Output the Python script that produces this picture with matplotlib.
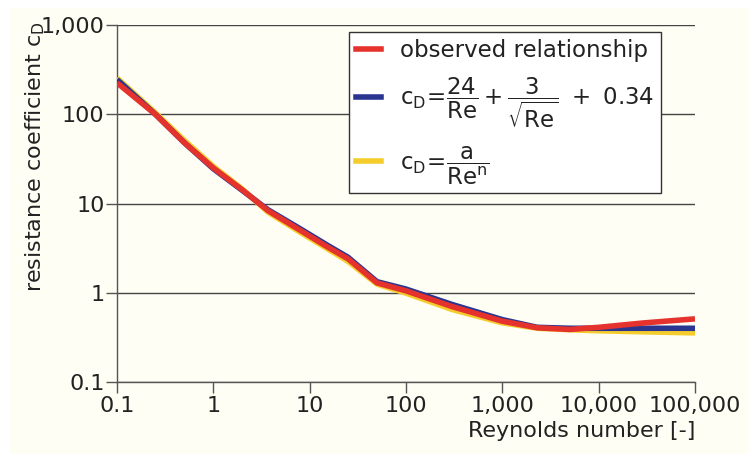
import matplotlib
matplotlib.use('Agg')
import matplotlib.pyplot as plt
from matplotlib.lines import Line2D
from matplotlib.patches import Rectangle
from matplotlib.ticker import FixedLocator, NullLocator

plt.rcParams['font.family'] = 'DejaVu Sans'
plt.rcParams['mathtext.fontset'] = 'dejavusans'
plt.rcParams['mathtext.default'] = 'regular'

# Reynolds numbers and drag coefficients
reynolds = [0.1, 0.25, 0.5, 1, 2, 3.7, 8, 15, 25, 50, 100, 300, 1000, 2300, 5000, 10000, 30000, 100000]
cd_observed = [225, 100, 48, 25, 14.2, 8.3, 5.0, 3.3, 2.4, 1.29, 1.05, 0.70, 0.48, 0.405, 0.388, 0.41, 0.46, 0.51]
cd_formula = [245, 100, 48, 24.5, 14, 8.5, 5.2, 3.45, 2.5, 1.33, 1.1, 0.74, 0.5, 0.41, 0.40, 0.40, 0.40, 0.40]
cd_power = [255, 104, 51, 26, 14.5, 8.0, 4.75, 3.15, 2.25, 1.25, 0.99, 0.65, 0.46, 0.40, 0.385, 0.375, 0.365, 0.355]

x_ticks = [0.1, 1, 10, 100, 1000, 10000, 100000]
x_ticklabels = ['0.1', '1', '10', '100', '1,000', '10,000', '100,000']
y_ticks = [0.1, 1, 10, 100, 1000]
y_ticklabels = ['0.1', '1', '10', '100', '1,000']

labels = ['observed relationship',
          r'$c_D\!=\!\dfrac{24}{Re}+\dfrac{3}{\sqrt{Re}}\ +\ 0.34$',
          r'$c_D\!=\!\dfrac{a}{Re^n}$']

red = '#e5322d'
blue = '#2a3590'
yellow = '#f4cd2c'
cream = '#fefef4'

fig = plt.figure(figsize=(7.49, 4.54), dpi=100, facecolor='white')
fig.patches.append(Rectangle((10 / 749, 0), 1, 1 - 8 / 454, transform=fig.transFigure,
                             facecolor=cream, edgecolor='none', zorder=-10))
ax = fig.add_axes([117 / 749, 1 - 382 / 454, 578 / 749, 357 / 454])
ax.set_facecolor(cream)

ax.plot(reynolds, cd_power, color=yellow, lw=4, solid_capstyle='butt', zorder=3)
ax.plot(reynolds, cd_formula, color=blue, lw=4, solid_capstyle='butt', zorder=4)
ax.plot(reynolds, cd_observed, color=red, lw=4, solid_capstyle='butt', zorder=5)

ax.set_xscale('log')
ax.set_yscale('log')
ax.set_xlim(0.1, 100000)
ax.set_ylim(0.1, 1000)
ax.xaxis.set_major_locator(FixedLocator(x_ticks))
ax.xaxis.set_minor_locator(NullLocator())
ax.yaxis.set_major_locator(FixedLocator(y_ticks))
ax.yaxis.set_minor_locator(NullLocator())
ax.set_xticklabels(x_ticklabels)
ax.set_yticklabels(y_ticklabels)
ax.tick_params(axis='both', labelsize=16, colors='#555555', labelcolor='#222222', length=8, width=1)
ax.tick_params(axis='x', pad=2)
ax.tick_params(axis='y', pad=1)

ax.yaxis.grid(True, color='#444444', lw=1)
ax.set_axisbelow(True)
for side in ['top', 'right']:
    ax.spines[side].set_visible(False)
for side in ['left', 'bottom']:
    ax.spines[side].set_color('#555555')
    ax.spines[side].set_linewidth(1)

ax.set_xlabel('Reynolds number [-]', fontsize=16, color='#222222', loc='right', labelpad=4)
fig.text(35 / 749, 1 - 22 / 454, 'resistance coefficient $c_D$', rotation=90,
         ha='center', va='top', fontsize=16, color='#222222')

handles = [Line2D([], [], color=c, lw=4) for c in (red, blue, yellow)]
leg = ax.legend(handles, labels, loc='upper left', bbox_to_anchor=(0.401, 0.980),
                borderaxespad=0, fontsize=16.5, frameon=True, fancybox=False,
                framealpha=1, edgecolor='#333333', facecolor='white',
                handlelength=1.1, handletextpad=0.85, borderpad=0.3, labelspacing=0.6)
leg.get_frame().set_linewidth(1)
for t in leg.get_texts():
    t.set_color('#222222')

fig.savefig('out.png', dpi=100, facecolor=fig.get_facecolor())
